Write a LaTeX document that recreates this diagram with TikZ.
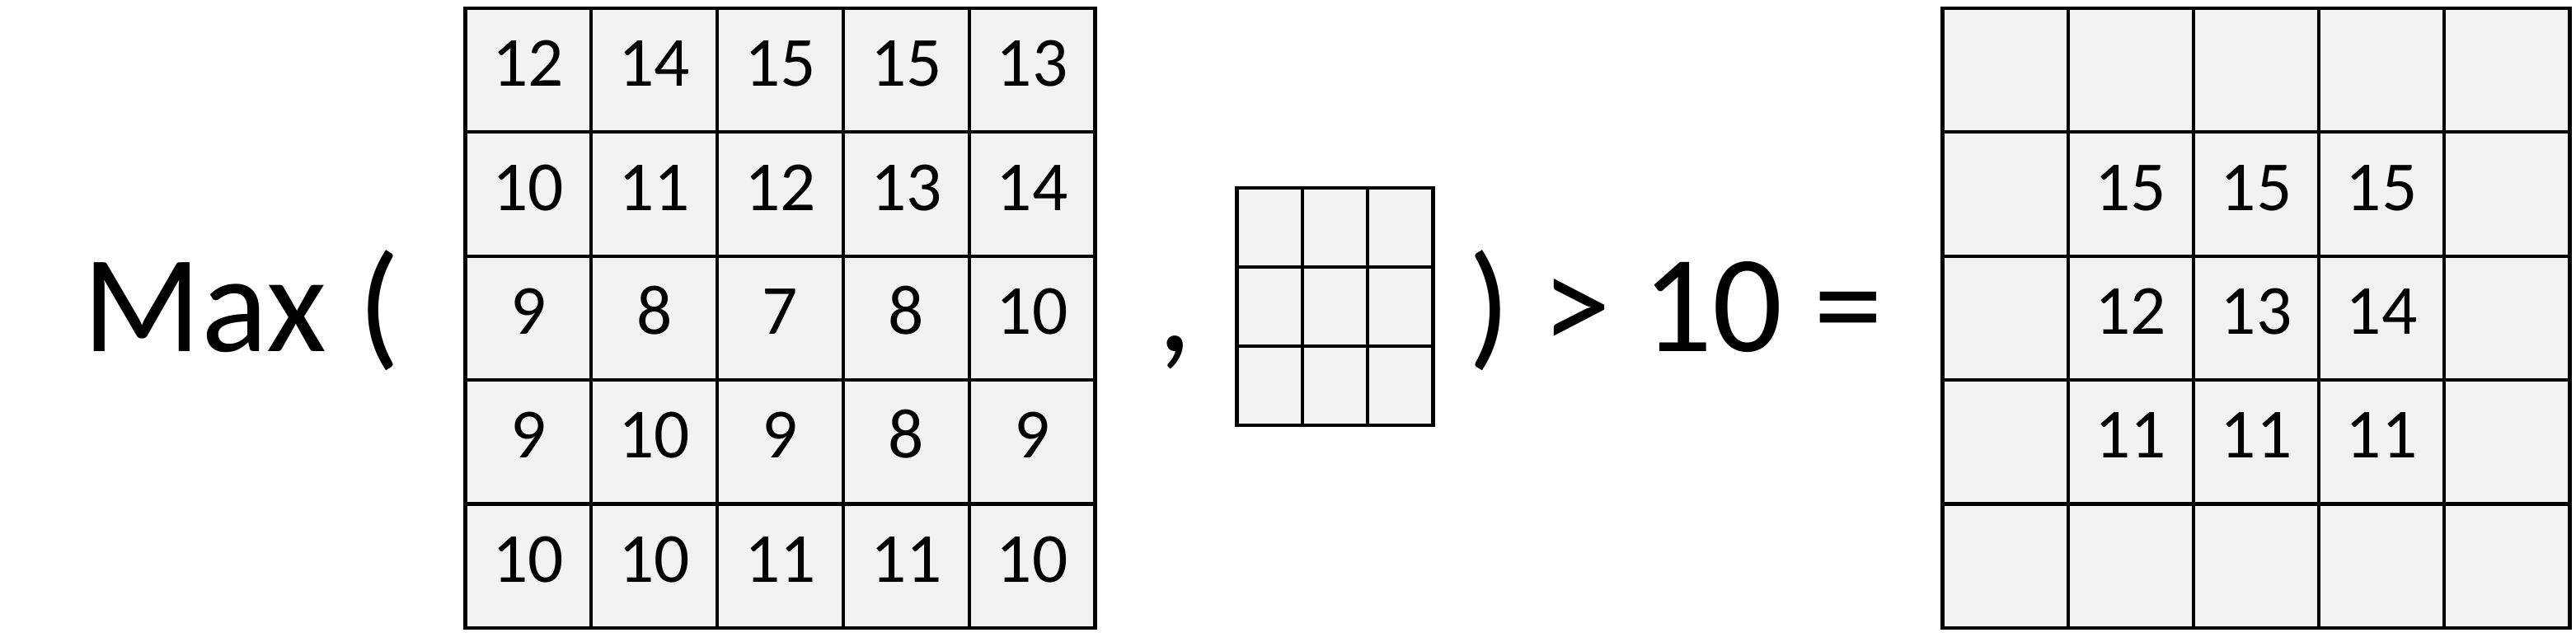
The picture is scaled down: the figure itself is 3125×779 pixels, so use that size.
\documentclass[tikz,border=0pt]{standalone}
\usepackage{fontspec}
\setmainfont{Carlito}
\usetikzlibrary{positioning}
\definecolor{cellgray}{HTML}{F2F2F2}
\tikzset{
  cell/.style={
    draw, fill=cellgray, line width=0.42mm, inner sep=0pt,
    text height=3.9mm, text depth=0pt,
    font=\fontsize{24.3pt}{29pt}\selectfont
  },
  bigcell/.style={cell, minimum width=15.28mm, minimum height=15.04mm},
  outcell/.style={cell, minimum width=15.22mm, minimum height=15.04mm},
  kercell/.style={cell, minimum width=7.93mm, minimum height=9.6mm},
  bigtext/.style={inner sep=0pt, anchor=base west,
    font=\fontsize{47.8pt}{57pt}\selectfont}
}
\begin{document}
\begin{tikzpicture}[x=0.01cm, y=-0.01cm]
  \useasboundingbox (0,0) rectangle (3125,779);
  % input map
  \foreach \row [count=\i from 0] in {{12,14,15,15,13},{10,11,12,13,14},{9,8,7,8,10},{9,10,9,8,9},{10,10,11,11,10}}
    \foreach \v [count=\j from 0] in \row
      \node[bigcell] (in-\i-\j) at ({564.5+152.8*(\j+0.5)}, {10+150.4*(\i+0.5)}) {\v};
  % kernel
  \foreach \i in {0,1,2}
    \foreach \j in {0,1,2}
      \node[kercell] (ker-\i-\j) at ({1500.5+79.3*(\j+0.5)}, {228+96*(\i+0.5)}) {};
  % result
  \foreach \row [count=\i from 0] in {{{},{},{},{},{}},{{},15,15,15,{}},{{},12,13,14,{}},{{},11,11,11,{}},{{},{},{},{},{}}}
    \foreach \v [count=\j from 0] in \row
      \node[outcell] (out-\i-\j) at ({2356.5+152.2*(\j+0.5)}, {10+150.4*(\i+0.5)}) {\v};
  \node[bigtext] (maxlabel) at (100,426) {Max (};
  \node[bigtext] (comma) at (1404,426) {,};
  \node[bigtext] (thresh) at (1781,426) {) > 10 =};
\end{tikzpicture}
\end{document}
